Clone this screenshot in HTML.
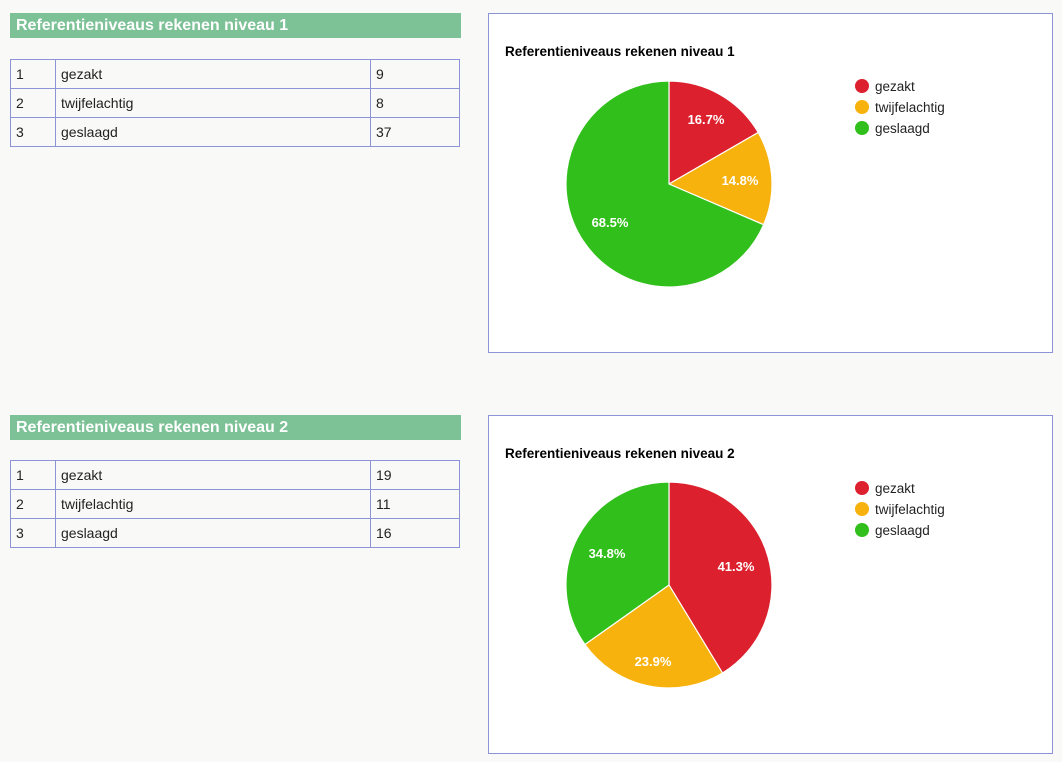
<!DOCTYPE html>
<html><head><meta charset="utf-8"><style>
body{margin:0;width:1062px;height:762px;background:#f9f9f7;font-family:"Liberation Sans",sans-serif;position:relative;overflow:hidden}
.h{position:absolute;left:10px;width:451px;height:25px;background:#7dc197;color:#fff;font-weight:bold;font-size:16px;line-height:25px;padding-left:6px;box-sizing:border-box}
table{position:absolute;left:10px;width:450px;border-collapse:collapse;font-size:14px;color:#222}
td{border:1px solid #8c93d6;height:29px;padding:0 5px;box-sizing:border-box}
.box{position:absolute;left:488px;width:565px;border:1px solid #8c93d6;background:#fff;box-sizing:border-box}
</style></head><body>
<div class="h" style="top:13px">Referentieniveaus rekenen niveau 1</div>
<table style="top:59px"><tr><td style="width:45px">1</td><td style="width:315px">gezakt</td><td>9</td></tr><tr><td>2</td><td>twijfelachtig</td><td>8</td></tr><tr><td>3</td><td>geslaagd</td><td>37</td></tr></table>
<div class="h" style="top:415px">Referentieniveaus rekenen niveau 2</div>
<table style="top:460px"><tr><td style="width:45px">1</td><td style="width:315px">gezakt</td><td>19</td></tr><tr><td>2</td><td>twijfelachtig</td><td>11</td></tr><tr><td>3</td><td>geslaagd</td><td>16</td></tr></table>
<div class="box" style="top:13px;height:340px"></div>
<div class="box" style="top:415px;height:339px"></div>
<svg width="1062" height="762" style="position:absolute;left:0;top:0" font-family="Liberation Sans, sans-serif">
<g font-size="13.5" font-weight="bold" fill="#000"><text x="505" y="56">Referentieniveaus rekenen niveau 1</text><text x="505" y="458">Referentieniveaus rekenen niveau 2</text></g>
<g stroke="#fff" stroke-width="1.2">
<path d="M669,184 L669,81 A103,103 0 0 1 758.2,132.5Z" fill="#dc202d"/>
<path d="M669,184 L758.2,132.5 A103,103 0 0 1 763.6,224.7Z" fill="#f7b20d"/>
<path d="M669,184 L763.6,224.7 A103,103 0 1 1 669,81Z" fill="#31bf1b"/>
<path d="M669,585 L669,482 A103,103 0 0 1 722.5,673Z" fill="#dc202d"/>
<path d="M669,585 L722.5,673 A103,103 0 0 1 584.9,644.5Z" fill="#f7b20d"/>
<path d="M669,585 L584.9,644.5 A103,103 0 0 1 669,482Z" fill="#31bf1b"/>
</g>
<g fill="#fff" font-size="13" font-weight="bold" text-anchor="middle">
<text x="706" y="124">16.7%</text><text x="740" y="185">14.8%</text><text x="610" y="227">68.5%</text>
<text x="736" y="571">41.3%</text><text x="653" y="666">23.9%</text><text x="607" y="558">34.8%</text>
</g>
<g font-size="13.5" fill="#222">
<circle cx="862" cy="86" r="7" fill="#dc202d"/><text x="875" y="91">gezakt</text>
<circle cx="862" cy="107" r="7" fill="#f7b20d"/><text x="875" y="112">twijfelachtig</text>
<circle cx="862" cy="128" r="7" fill="#31bf1b"/><text x="875" y="133">geslaagd</text>
<circle cx="862" cy="488" r="7" fill="#dc202d"/><text x="875" y="493">gezakt</text>
<circle cx="862" cy="509" r="7" fill="#f7b20d"/><text x="875" y="514">twijfelachtig</text>
<circle cx="862" cy="530" r="7" fill="#31bf1b"/><text x="875" y="535">geslaagd</text>
</g>
</svg>
</body></html>
